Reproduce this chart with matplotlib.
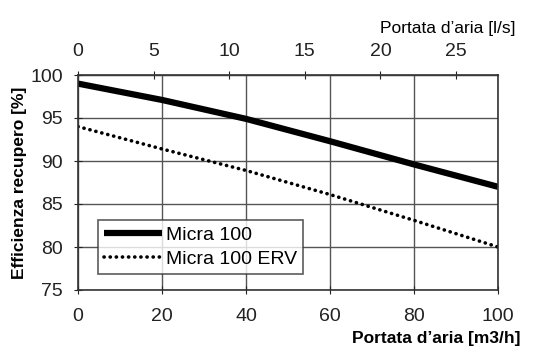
import matplotlib.pyplot as plt

plt.rcParams['font.family'] = ['Liberation Sans', 'DejaVu Sans']

flow_m3h = [0, 20, 40, 60, 80, 100]
micra_100 = [99.0, 97.1, 94.9, 92.3, 89.6, 87.0]
micra_100_erv = [94.0, 91.4, 88.9, 86.1, 83.1, 80.0]

fig = plt.figure(figsize=(5.56, 3.5), dpi=100)
ax = fig.add_axes([78 / 556, 1 - 290 / 350, 420 / 556, 215 / 350])

ax.plot(flow_m3h, micra_100, color='black', lw=4.5, label="Micra 100", solid_capstyle='butt')
ax.plot(flow_m3h, micra_100_erv, color='black', lw=2.6, ls=(0, (0.05, 1.65)),
        dash_capstyle='round', label="Micra 100 ERV")

ax.set_xlim(0, 100)
ax.set_ylim(75, 100)
ax.set_xticks(range(0, 101, 20))
ax.set_yticks(range(75, 101, 5))
ax.grid(color='#555555', lw=1)
for s in ax.spines.values():
    s.set_color('#333333')
    s.set_linewidth(1.2)
ax.tick_params(direction='inout', length=6, labelsize=14, colors='#222222')
ax.tick_params(axis='x', pad=10)
ax.tick_params(axis='y', pad=8)

ax.set_ylabel("Efficienza recupero [%]", fontsize=12.5, fontweight='bold', labelpad=2)

top = ax.secondary_xaxis('top', functions=(lambda x: x / 3.6, lambda x: x * 3.6))
top.set_xticks(range(0, 26, 5))
top.tick_params(direction='inout', length=6, labelsize=14, colors='#222222', pad=8)

fig.text(520 / 556, 1 - 338 / 350, "Portata d\u2019aria [m3/h]", fontsize=12.5,
         fontweight='bold', ha='right', va='center')
fig.text(516 / 556, 1 - 28 / 350, "Portata d\u2019aria [l/s]", fontsize=12.5,
         ha='right', va='center')

leg = ax.legend(loc='lower left', bbox_to_anchor=(0.025, 0.03), fontsize=14, frameon=True,
                fancybox=False, edgecolor='#333333', handlelength=3.0, borderpad=0.3,
                labelspacing=0.35, handletextpad=0.2)
leg.get_frame().set_linewidth(1.2)

fig.savefig("out.png", dpi=100)
